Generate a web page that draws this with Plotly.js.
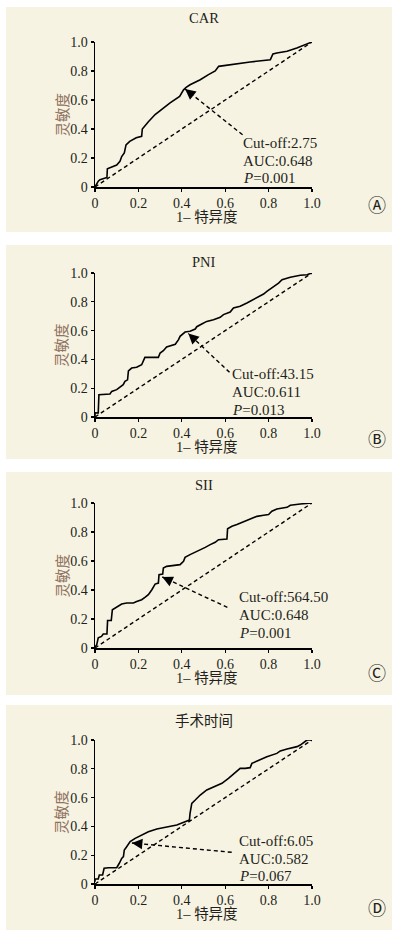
<!DOCTYPE html>
<html><head><meta charset="utf-8">
<script src="https://cdn.plot.ly/plotly-3.0.1.min.js"></script>
<style>html,body{margin:0;padding:0;background:#fff}#c{width:397px;height:936px}</style>
</head><body><div id="c"></div>
<script>
// ---- data ----
const titles = ["CAR", "PNI", "SII", "手术时间"];
const panelLetters = ["Ⓐ", "Ⓑ", "Ⓒ", "Ⓓ"];
const cutoffs = ["2.75", "43.15", "564.50", "6.05"];
const aucs = ["0.648", "0.611", "0.648", "0.582"];
const pvals = ["0.001", "0.013", "0.001", "0.067"];
const tickVals = [0, 0.2, 0.4, 0.6, 0.8, 1.0];
const tickText = ["0", "0.2", "0.4", "0.6", "0.8", "1.0"];
const diagX = [0, 1];
const diagY = [0, 1];

const carX = [0, 0.015, 0.023, 0.046, 0.055, 0.057, 0.085, 0.1, 0.115, 0.123, 0.135, 0.143, 0.16, 0.19, 0.215, 0.218, 0.246, 0.277, 0.346, 0.39, 0.408, 0.42, 0.438, 0.485, 0.523, 0.554, 0.57, 0.638, 0.715, 0.808, 0.82, 0.838, 0.885, 0.93, 0.992, 1];
const carY = [0, 0.04, 0.05, 0.062, 0.066, 0.126, 0.14, 0.152, 0.177, 0.21, 0.235, 0.29, 0.315, 0.34, 0.35, 0.40, 0.45, 0.5, 0.58, 0.625, 0.67, 0.687, 0.705, 0.74, 0.775, 0.80, 0.832, 0.848, 0.862, 0.878, 0.917, 0.924, 0.936, 0.959, 0.993, 1];

const pniX = [0, 0, 0.015, 0.018, 0.069, 0.077, 0.1, 0.115, 0.13, 0.138, 0.15, 0.154, 0.169, 0.192, 0.215, 0.23, 0.292, 0.3, 0.315, 0.33, 0.354, 0.37, 0.385, 0.392, 0.415, 0.438, 0.462, 0.469, 0.492, 0.515, 0.546, 0.577, 0.592, 0.623, 0.638, 0.669, 0.7, 0.731, 0.762, 0.777, 0.792, 0.815, 0.846, 0.862, 0.9, 0.946, 0.977, 1];
const pniY = [0, 0.03, 0.028, 0.155, 0.16, 0.178, 0.19, 0.208, 0.225, 0.248, 0.258, 0.32, 0.34, 0.345, 0.363, 0.414, 0.414, 0.444, 0.46, 0.486, 0.498, 0.505, 0.537, 0.56, 0.59, 0.595, 0.611, 0.627, 0.646, 0.664, 0.676, 0.692, 0.711, 0.729, 0.757, 0.769, 0.792, 0.815, 0.838, 0.854, 0.873, 0.896, 0.93, 0.953, 0.97, 0.984, 0.988, 1];

const siiX = [0, 0.008, 0.015, 0.03, 0.038, 0.055, 0.058, 0.075, 0.08, 0.092, 0.108, 0.123, 0.146, 0.177, 0.192, 0.215, 0.23, 0.246, 0.262, 0.277, 0.292, 0.295, 0.312, 0.315, 0.33, 0.362, 0.392, 0.408, 0.415, 0.438, 0.462, 0.485, 0.508, 0.531, 0.554, 0.569, 0.608, 0.611, 0.631, 0.654, 0.685, 0.715, 0.746, 0.777, 0.8, 0.815, 0.838, 0.885, 0.9, 0.946, 1];
const siiY = [0.007, 0.023, 0.07, 0.08, 0.097, 0.097, 0.19, 0.19, 0.264, 0.276, 0.294, 0.303, 0.31, 0.31, 0.32, 0.333, 0.349, 0.368, 0.402, 0.441, 0.448, 0.506, 0.51, 0.552, 0.563, 0.568, 0.575, 0.598, 0.625, 0.644, 0.66, 0.678, 0.694, 0.713, 0.729, 0.747, 0.752, 0.823, 0.839, 0.851, 0.869, 0.885, 0.908, 0.915, 0.92, 0.943, 0.959, 0.97, 0.984, 0.993, 1];

const opX = [0, 0, 0.015, 0.02, 0.035, 0.042, 0.062, 0.1, 0.112, 0.123, 0.131, 0.135, 0.146, 0.154, 0.162, 0.185, 0.208, 0.246, 0.285, 0.331, 0.377, 0.415, 0.435, 0.438, 0.446, 0.462, 0.485, 0.515, 0.554, 0.585, 0.615, 0.638, 0.669, 0.692, 0.715, 0.723, 0.746, 0.769, 0.792, 0.838, 0.854, 0.885, 0.931, 0.946, 0.962, 0.977, 1];
const opY = [0.016, 0.035, 0.035, 0.063, 0.063, 0.109, 0.113, 0.113, 0.144, 0.178, 0.19, 0.236, 0.259, 0.282, 0.294, 0.317, 0.336, 0.363, 0.382, 0.398, 0.41, 0.433, 0.444, 0.49, 0.56, 0.583, 0.618, 0.653, 0.676, 0.699, 0.734, 0.762, 0.803, 0.803, 0.808, 0.838, 0.854, 0.873, 0.884, 0.907, 0.924, 0.938, 0.954, 0.965, 0.984, 1.0, 1];

const curvesX = [carX, pniX, siiX, opX];
const curvesY = [carY, pniY, siiY, opY];
// arrow head / tail in data units
const arrowHeadX = [0.415, 0.43, 0.31, 0.17];
const arrowHeadY = [0.676, 0.58, 0.49, 0.285];
const arrowTailX = [0.68, 0.62, 0.61, 0.63];
const arrowTailY = [0.36, 0.31, 0.28, 0.22];

// ---- layout geometry (pixels) ----
const W = 397, H = 936;
const plotL = 95, plotR = 312;
const geo = [
  {top: 42, bottom: 187, bg: [7, 232], titleY: 18, textX: 243, lines: [143, 161, 178], letterY: 205},
  {top: 273, bottom: 417, bg: [245, 459], titleY: 262, textX: 232, lines: [374, 392, 410], letterY: 439},
  {top: 503, bottom: 648, bg: [472, 695], titleY: 485, textX: 239, lines: [597, 615, 633], letterY: 673},
  {top: 740, bottom: 884, bg: [705, 930], titleY: 721, textX: 239, lines: [841, 859, 876], letterY: 908}
];
const px = x => x / W;
const py = y => 1 - y / H;
const serif = "Liberation Serif, 'Times New Roman', 'Noto Sans CJK SC', serif";
const ink = "#231f20";

const data = [];
const layout = {
  width: W, height: H,
  margin: {l: 0, r: 0, t: 0, b: 0},
  paper_bgcolor: "#ffffff",
  plot_bgcolor: "rgba(0,0,0,0)",
  showlegend: false,
  shapes: [], annotations: []
};

geo.forEach((g, i) => {
  const n = i === 0 ? "" : String(i + 1);
  const xa = "x" + n, ya = "y" + n;
  const axCommon = {
    range: [0, 1], tickvals: tickVals, ticktext: tickText,
    showgrid: false, zeroline: false, showline: true, linecolor: "#000", linewidth: 1.5,
    ticks: "outside", ticklen: 3, tickwidth: 1.3, tickcolor: "#000",
    tickfont: {family: serif, size: 14, color: ink}, fixedrange: true
  };
  layout["xaxis" + n] = Object.assign({}, axCommon, {domain: [px(plotL), px(plotR)], anchor: ya});
  layout["yaxis" + n] = Object.assign({}, axCommon, {domain: [py(g.bottom), py(g.top)], anchor: xa});

  layout.shapes.push({type: "rect", xref: "paper", yref: "paper", layer: "below",
    x0: px(6), x1: px(392), y0: py(g.bg[1]), y1: py(g.bg[0]), fillcolor: "#f7f3e2", line: {width: 0}});

  data.push({x: diagX, y: diagY, xaxis: xa, yaxis: ya, mode: "lines",
    line: {color: "#000", width: 1.4, dash: "4px,3px"}, hoverinfo: "skip"});
  data.push({x: curvesX[i], y: curvesY[i], xaxis: xa, yaxis: ya, mode: "lines",
    line: {color: "#000", width: 1.6}, hoverinfo: "skip"});

  // dashed arrow shaft
  layout.shapes.push({type: "line", xref: xa, yref: ya,
    x0: arrowTailX[i], y0: arrowTailY[i], x1: arrowHeadX[i], y1: arrowHeadY[i],
    line: {color: "#000", width: 1.4, dash: "4px,3px"}});
  // arrow head
  const pw = plotR - plotL, ph = g.bottom - g.top;
  let dx = (arrowTailX[i] - arrowHeadX[i]) * pw, dy = -(arrowTailY[i] - arrowHeadY[i]) * ph;
  const len = Math.hypot(dx, dy);
  dx = dx / len * 10; dy = dy / len * 10;
  layout.annotations.push({xref: xa, yref: ya, x: arrowHeadX[i], y: arrowHeadY[i], text: "",
    showarrow: true, ax: dx, ay: dy, arrowhead: 2, arrowsize: 1.5, arrowwidth: 1.4, arrowcolor: "#000", standoff: 0});

  // title
  layout.annotations.push({xref: "paper", yref: "paper", x: px(204), y: py(g.titleY), xanchor: "center", yanchor: "middle",
    text: titles[i], showarrow: false, font: {family: serif, size: 14.5, color: ink}});
  // axis titles
  layout.annotations.push({xref: "paper", yref: "paper", x: px(207), y: py(g.bottom + 30), xanchor: "center", yanchor: "middle",
    text: "1– 特异度", showarrow: false, font: {family: serif, size: 14.5, color: ink}});
  layout.annotations.push({xref: "paper", yref: "paper", x: px(62), y: py((g.top + g.bottom) / 2), xanchor: "center", yanchor: "middle",
    text: "灵敏度", textangle: -90, showarrow: false, font: {family: serif, size: 14.5, color: "#8f7260"}});
  // stats text
  const lines = ["Cut-off:" + cutoffs[i], "AUC:" + aucs[i], "<i>P</i>=" + pvals[i]];
  lines.forEach((t, k) => {
    layout.annotations.push({xref: "paper", yref: "paper", x: px(g.textX - 2), y: py(g.lines[k]), xanchor: "left", yanchor: "middle",
      text: t, showarrow: false, font: {family: serif, size: 15, color: ink}});
  });
  // panel letter
  layout.annotations.push({xref: "paper", yref: "paper", x: px(377), y: py(g.letterY), xanchor: "center", yanchor: "middle",
    text: panelLetters[i], showarrow: false, font: {family: "DejaVu Sans, 'Noto Sans CJK SC'", size: 18, color: ink}});
});

Plotly.newPlot("c", data, layout, {staticPlot: true, displayModeBar: false});
</script></body></html>
